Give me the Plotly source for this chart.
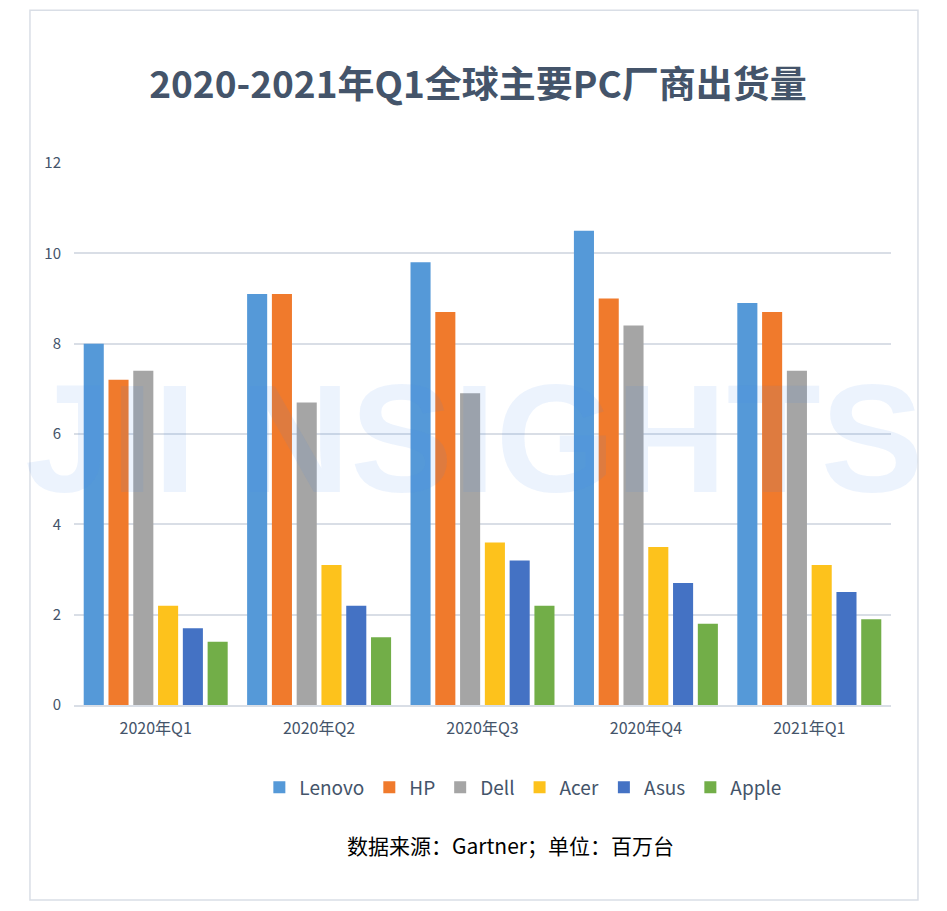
import plotly.graph_objects as go

# dados (milhões de unidades)
trimestres = ["2020年Q1", "2020年Q2", "2020年Q3", "2020年Q4", "2021年Q1"]
marcas = ["Lenovo", "HP", "Dell", "Acer", "Asus", "Apple"]
lenovo = [8.0, 9.1, 9.8, 10.5, 8.9]
hp = [7.2, 9.1, 8.7, 9.0, 8.7]
dell = [7.4, 6.7, 6.9, 8.4, 7.4]
acer = [2.2, 3.1, 3.6, 3.5, 3.1]
asus = [1.7, 2.2, 3.2, 2.7, 2.5]
apple = [1.4, 1.5, 2.2, 1.8, 1.9]
y_ticks = [0, 2, 4, 6, 8, 10, 12]

series = [lenovo, hp, dell, acer, asus, apple]
cores = ["#5599D8", "#F07A2C", "#A5A5A5", "#FDC21C", "#4472C4", "#72AE48"]

texto_cor = "#44546A"
grade_cor = "#D9DEE6"

fig = go.Figure()

for nome, valores, cor in zip(marcas, series, cores):
    fig.add_trace(go.Bar(
        x=trimestres,
        y=valores,
        name=nome,
        marker=dict(color=cor, line=dict(width=0)),
    ))

# moldura externa
fig.add_shape(
    type="rect", xref="paper", yref="paper",
    x0=-0.0539, x1=1.033, y0=-0.36, y1=1.282,
    line=dict(color=grade_cor, width=1.5),
    fillcolor="rgba(0,0,0,0)", layer="below",
)

# marca d'água
fig.add_annotation(
    text="<b>JII NSIGHTS</b>", xref="paper", yref="paper",
    x=0.49, y=0.49, xanchor="center", yanchor="middle",
    showarrow=False,
    font=dict(family="Liberation Sans", size=154, color="rgba(70,140,235,0.10)"),
)

# fonte dos dados
fig.add_annotation(
    text="数据来源：Gartner；单位：百万台", xref="paper", yref="paper",
    x=0.534, y=-0.258, xanchor="center", yanchor="middle",
    showarrow=False,
    font=dict(family="Noto Sans CJK SC", size=21, color="black"),
)

fig.update_layout(
    width=939, height=903,
    title=dict(
        text="<b>2020-2021年Q1全球主要PC厂商出货量</b>",
        x=0.5005, xanchor="center", y=0.9147, yanchor="middle",
        font=dict(family="Noto Sans CJK SC", size=37, color=texto_cor),
    ),
    barmode="group",
    bargap=0.09,
    bargroupgap=0.19,
    legend=dict(
        orientation="h",
        x=0.55, xanchor="center", y=-0.152, yanchor="middle",
        font=dict(family="Noto Sans CJK SC", size=19, color=texto_cor),
        itemwidth=30,
        traceorder="normal",
    ),
    xaxis=dict(
        tickfont=dict(family="Noto Sans CJK SC", size=16, color=texto_cor),
        showline=True, linecolor=grade_cor, linewidth=1.5,
        ticks="",
        ticklabelstandoff=8,
    ),
    yaxis=dict(
        range=[0, 12],
        tickvals=y_ticks,
        tickfont=dict(family="Noto Sans CJK SC", size=15, color=texto_cor),
        showgrid=True, gridcolor=grade_cor, gridwidth=1.5,
        zeroline=False,
        ticklabelstandoff=12,
    ),
    paper_bgcolor="white",
    plot_bgcolor="white",
    margin=dict(l=66, r=56, t=155, b=206),
    font=dict(family="Noto Sans CJK SC", color=texto_cor),
)

fig.write_html("out.html")
